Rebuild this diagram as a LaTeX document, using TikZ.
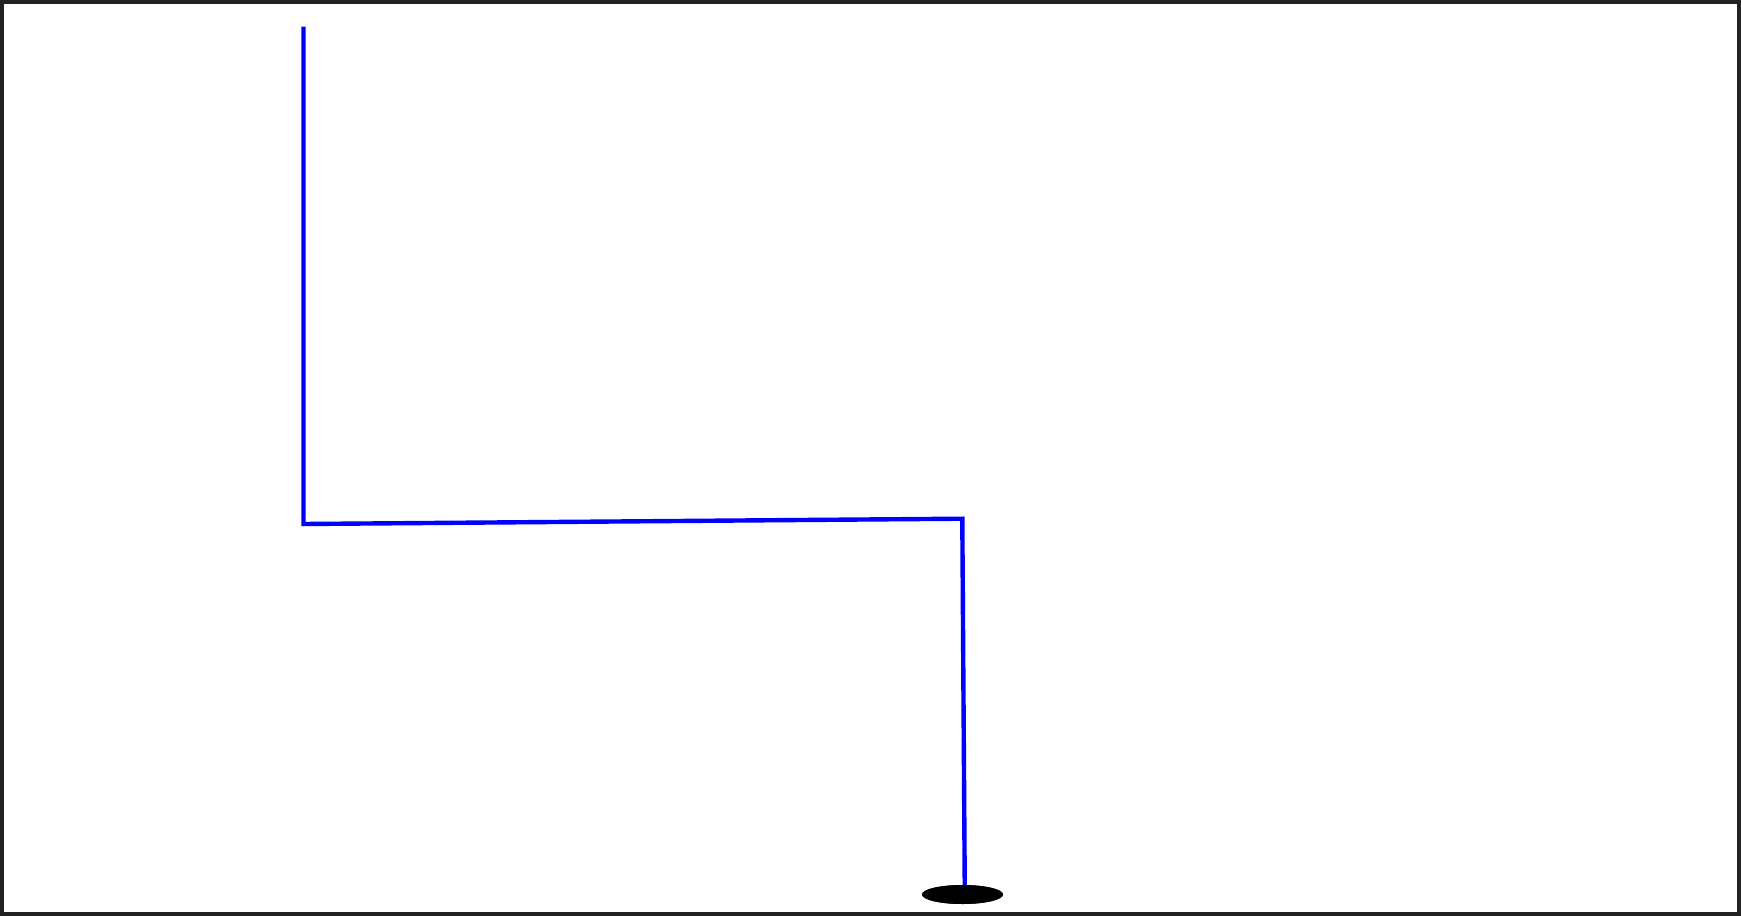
\documentclass[tikz,border=0pt]{standalone}
\usetikzlibrary{shapes.geometric}
\definecolor{framegray}{HTML}{222222}
\definecolor{wireblue}{HTML}{0000FF}
\tikzset{
  wire/.style={draw=wireblue, line width=4.4pt, line cap=butt, line join=miter},
  blob/.style={ellipse, fill=black, draw=none, minimum width=81pt, minimum height=19pt, inner sep=0pt},
}
\begin{document}
\begin{tikzpicture}[x=1pt,y=-1pt]
\useasboundingbox (0,0) rectangle (1741,916);
\fill[white] (0,0) rectangle (1741,916);
\draw[framegray, line width=4pt] (2,2) rectangle (1739,914);
\coordinate (start) at (303.5,26.6);
\coordinate (c1) at (303.5,524);
\coordinate (c2) at (962.3,518.7);
\node[blob] (base) at (962.5,894.5) {};
\draw[wire] (start) -- (c1) -- (c2) -- (964.8,894.5);
\node[blob] at (base.center) {};
\end{tikzpicture}
\end{document}
